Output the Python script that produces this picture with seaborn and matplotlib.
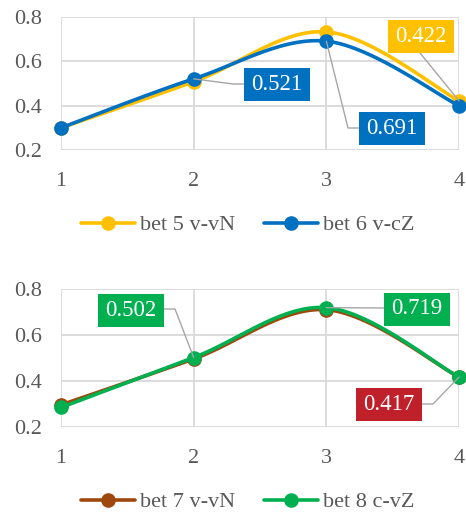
import numpy as np
import pandas as pd
import seaborn as sns
import matplotlib
matplotlib.use("Agg")
import matplotlib.pyplot as plt
from matplotlib.lines import Line2D
from matplotlib.patches import Rectangle
from matplotlib.transforms import IdentityTransform

# ---- data ----
x_cats = [1, 2, 3, 4]
bet5 = [0.300, 0.508, 0.733, 0.422]
bet6 = [0.300, 0.521, 0.691, 0.400]
bet7 = [0.296, 0.496, 0.710, 0.417]
bet8 = [0.285, 0.502, 0.719, 0.417]
names_top = ["bet 5 v-vN", "bet 6 v-cZ"]
names_bot = ["bet 7 v-vN", "bet 8 c-vZ"]
y_ticks = [0.2, 0.4, 0.6, 0.8]
y_tick_labels = ["0.2", "0.4", "0.6", "0.8"]

C_YEL = "#FFC000"
C_BLU = "#0070C0"
C_BRN = "#9E480E"
C_GRN = "#00B050"
C_RED = "#C0202A"
TXT = "#595959"
GRID = "#D9D9D9"

W, H = 466, 513
sns.set_theme(style="white")
plt.rcParams["font.family"] = ["Liberation Serif", "DejaVu Serif"]

fig = plt.figure(figsize=(W / 100, H / 100), dpi=100)


def smooth(xs, ys, n=40):
    P = np.column_stack([xs, ys]).astype(float)
    P = np.vstack([P[0], P, P[-1]])
    out = []
    for i in range(1, len(P) - 2):
        p0, p1, p2, p3 = P[i - 1], P[i], P[i + 1], P[i + 2]
        c1 = p1 + (p2 - p0) / 6
        c2 = p2 - (p3 - p1) / 6
        t = np.linspace(0, 1, n)[:, None]
        seg = ((1 - t) ** 3) * p1 + 3 * ((1 - t) ** 2) * t * c1 + 3 * (1 - t) * t ** 2 * c2 + t ** 3 * p2
        out.append(seg if i == 1 else seg[1:])
    out = np.vstack(out)
    return out[:, 0], out[:, 1]


def make_axes(top_px, bot_px):
    left, right = 61, 459
    ax = fig.add_axes([left / W, 1 - bot_px / H, (right - left) / W, (bot_px - top_px) / H])
    ax.set_xlim(1, 4)
    ax.set_ylim(0.2, 0.8)
    ax.set_xticks(x_cats)
    ax.set_xticklabels([str(v) for v in x_cats])
    ax.set_yticks(y_ticks)
    ax.set_yticklabels(y_tick_labels)
    ax.grid(True, color=GRID, lw=1.3)
    for s in ax.spines.values():
        s.set_visible(False)
    ax.tick_params(axis="both", length=0, labelsize=16, labelcolor=TXT)
    ax.tick_params(axis="x", pad=16)
    ax.tick_params(axis="y", pad=13.5)
    ax.set_xlabel("")
    ax.set_ylabel("")
    return ax


def draw_series(ax, ys, color, z):
    sx, sy = smooth(x_cats, ys)
    df = pd.DataFrame({"x": sx, "y": sy})
    sns.lineplot(data=df, x="x", y="y", sort=False, color=color, lw=2.6, ax=ax, zorder=z, clip_on=False)
    ax.plot(x_cats, ys, "o", color=color, ms=9.5, zorder=z + 0.5, clip_on=False)
    ax.set_xlabel("")
    ax.set_ylabel("")


def label_box(cx, cy, text, color, w=66, h=33):
    fig.patches.append(Rectangle((cx - w / 2, H - cy - h / 2), w, h, transform=IdentityTransform(),
                                 facecolor=color, edgecolor="none", zorder=10))
    fig.text(cx / W, 1 - cy / H, text, ha="center", va="center", color="white", fontsize=16.5, zorder=11)


def leader(ax, xd, yd, pts):
    dx, dy = ax.transData.transform((xd, yd))
    xs = [dx] + [p[0] for p in pts]
    ys = [dy] + [H - p[1] for p in pts]
    fig.add_artist(Line2D(xs, ys, transform=IdentityTransform(), color="#A6A6A6", lw=1.0, zorder=9))


# ---- top chart ----
ax1 = make_axes(17, 150)
draw_series(ax1, bet5, C_YEL, 3)
draw_series(ax1, bet6, C_BLU, 4)
fig.canvas.draw()
leader(ax1, 4, bet5[3], [(420, 53)])
label_box(421, 36, f"{bet5[3]:.3f}", C_YEL)
leader(ax1, 2, bet6[1], [(233, 84), (244, 84)])
label_box(277, 84, f"{bet6[1]:.3f}", C_BLU)
leader(ax1, 3, bet6[2], [(348, 128), (359, 128)])
label_box(392, 128, f"{bet6[2]:.3f}", C_BLU)

handles1 = [Line2D([], [], color=C_YEL, lw=2.6, marker="o", ms=9.5),
            Line2D([], [], color=C_BLU, lw=2.6, marker="o", ms=9.5)]
fig.legend(handles1, names_top, loc="center", bbox_to_anchor=(248 / W, 1 - 225 / H), ncol=2,
           frameon=False, fontsize=16, labelcolor=TXT, handlelength=2.4, handletextpad=0.25,
           columnspacing=1.3, borderpad=0.2)

# ---- bottom chart ----
ax2 = make_axes(289, 427)
draw_series(ax2, bet7, C_BRN, 3)
draw_series(ax2, bet8, C_GRN, 4)
fig.canvas.draw()
leader(ax2, 2, bet8[1], [(175, 309), (164, 309)])
label_box(131, 310, f"{bet8[1]:.3f}", C_GRN)
leader(ax2, 3, bet8[2], [(384, 308)])
label_box(417, 309, f"{bet8[2]:.3f}", C_GRN)
leader(ax2, 4, bet7[3], [(433, 404), (422, 404)])
label_box(389, 404, f"{bet7[3]:.3f}", C_RED)

handles2 = [Line2D([], [], color=C_BRN, lw=2.6, marker="o", ms=9.5),
            Line2D([], [], color=C_GRN, lw=2.6, marker="o", ms=9.5)]
fig.legend(handles2, names_bot, loc="center", bbox_to_anchor=(248 / W, 1 - 502 / H), ncol=2,
           frameon=False, fontsize=16, labelcolor=TXT, handlelength=2.4, handletextpad=0.25,
           columnspacing=1.3, borderpad=0.2)

fig.savefig("out.png", dpi=100)
